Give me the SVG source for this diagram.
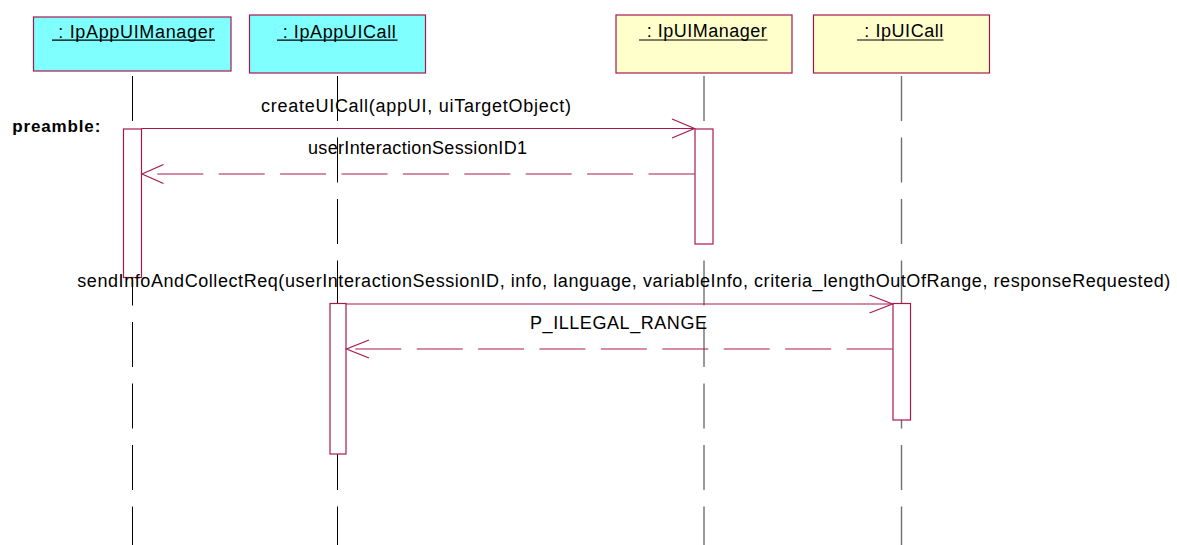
<svg xmlns="http://www.w3.org/2000/svg" width="1177" height="545" viewBox="0 0 1177 545">
<style>
text{font-family:"Liberation Sans",Arial,sans-serif;font-size:18px;fill:#000}
.hdr{stroke:#A8184F;stroke-width:1.2}
.app{fill:#80FFFF}
.svc{fill:#FFFFCC}
.ul{stroke:#000;stroke-width:1.2}
.life1{stroke:#000;stroke-width:1;stroke-dasharray:45 16.5;fill:none}
.life2{stroke:#707070;stroke-width:1.4;stroke-dasharray:45 16.5;fill:none}
.act{fill:#fff;stroke:#A8184F;stroke-width:1.2}
.msg{stroke:#A8184F;stroke-width:1.2;fill:none}
.ret{stroke:#A8184F;stroke-width:1.2;fill:none;stroke-dasharray:46 15.4}
.pre{font-weight:bold;font-size:17px}
</style>
<g id="lifelines">
<line class="life1" x1="132.5" y1="76" x2="132.5" y2="545"/>
<line class="life1" x1="337.5" y1="76" x2="337.5" y2="545"/>
<line class="life2" x1="704" y1="76" x2="704" y2="545"/>
<line class="life2" x1="901.5" y1="76" x2="901.5" y2="545"/>
</g>
<g id="node-IpAppUIManager">
<rect class="hdr app" x="33.5" y="17" width="197.5" height="54"/>
<text x="58.3" y="37.5" textLength="156" lengthAdjust="spacing">: IpAppUIManager</text>
<line class="ul" x1="52" y1="40.2" x2="215" y2="40.2"/>
</g>
<g id="node-IpAppUICall">
<rect class="hdr app" x="249.5" y="15" width="176" height="58"/>
<text x="282.7" y="37.5" textLength="113" lengthAdjust="spacing">: IpAppUICall</text>
<line class="ul" x1="277" y1="40.2" x2="397.5" y2="40.2"/>
</g>
<g id="node-IpUIManager">
<rect class="hdr svc" x="616" y="15" width="176" height="58"/>
<text x="646.7" y="37" textLength="120" lengthAdjust="spacing">: IpUIManager</text>
<line class="ul" x1="639" y1="40" x2="767.5" y2="40"/>
</g>
<g id="node-IpUICall">
<rect class="hdr svc" x="813.5" y="15" width="176" height="58"/>
<text x="864.3" y="37" textLength="79" lengthAdjust="spacing">: IpUICall</text>
<line class="ul" x1="857" y1="40" x2="943.5" y2="40"/>
</g>
<g id="activations">
<rect class="act" x="123.5" y="129" width="18" height="148.5"/>
<rect class="act" x="695" y="129" width="18" height="115"/>
<rect class="act" x="330" y="303.5" width="16" height="150.5"/>
<rect class="act" x="893" y="303.5" width="17.5" height="116.5"/>
</g>
<g id="connectors">
<line class="msg" x1="141.5" y1="128.5" x2="694.5" y2="128.5"/>
<polyline class="msg" points="672,119 694.5,128.5 672,138"/>
<line class="ret" x1="694.5" y1="174" x2="142" y2="174"/>
<polyline class="msg" points="163.5,164.5 142,174 163.5,183.5"/>
<line class="msg" x1="346" y1="304" x2="892.5" y2="304"/>
<polyline class="msg" points="869.5,295 892.5,304 869.5,313"/>
<line class="ret" x1="892.5" y1="349" x2="346.5" y2="349"/>
<polyline class="msg" points="369,340 346.5,349 369,358"/>
</g>
<g id="labels">
<text class="pre" x="12.3" y="131.5" textLength="88" lengthAdjust="spacing">preamble:</text>
<text x="261" y="112" textLength="310" lengthAdjust="spacing">createUICall(appUI, uiTargetObject)</text>
<text x="308" y="154" textLength="219" lengthAdjust="spacing">userInteractionSessionID1</text>
<text x="77.3" y="287" textLength="1093" lengthAdjust="spacing">sendInfoAndCollectReq(userInteractionSessionID, info, language, variableInfo, criteria_lengthOutOfRange, responseRequested)</text>
<text x="530" y="328.5" textLength="177" lengthAdjust="spacing">P_ILLEGAL_RANGE</text>
</g>
</svg>
